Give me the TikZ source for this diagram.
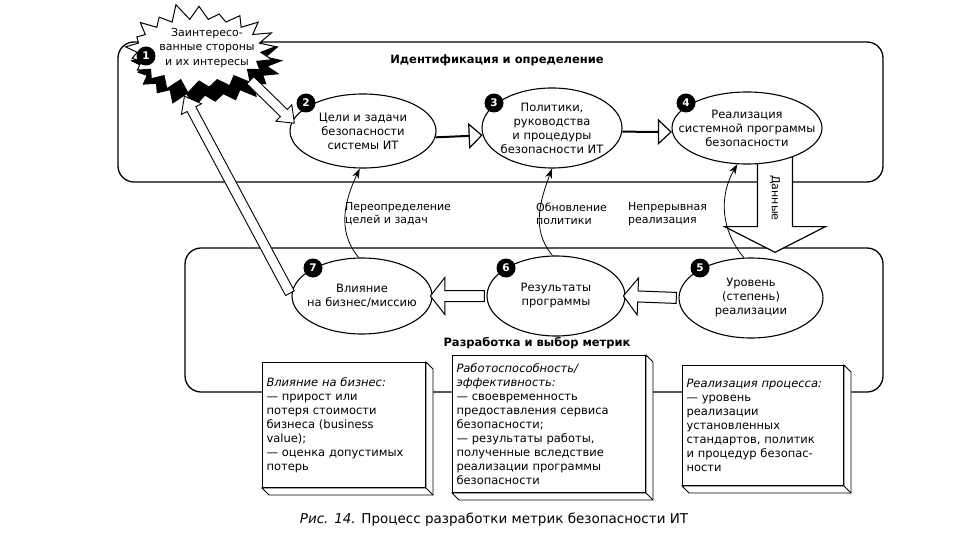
\documentclass[tikz,border=0pt]{standalone}
\usepackage{fontspec}
\setmainfont{DejaVu Sans}
\usetikzlibrary{shapes.geometric,shapes.symbols,shapes.arrows,arrows.meta,calc}
\pgfdeclarelayer{bg}
\pgfdeclarelayer{mid}
\pgfsetlayers{bg,mid,main}
\newcommand{\blkarrow}[4]{%
  \path let \p1=(#2), \p2=(#3), \n1={atan2(\y2-\y1,\x2-\x1)}, \n2={veclen(\x2-\x1,\y2-\y1)} in
    node[#1, minimum height=\n2, rotate=\n1] (#4) at ($(#2)!0.5!(#3)$) {};}
\newcommand{\boxbevel}[1]{%
  \draw[line width=0.9pt, fill=white] (#1.north east) -- ++(7,7) -- ($(#1.south east)+(7,7)$) -- ($(#1.south west)+(7,7)$) -- (#1.south west) -- (#1.south east) -- cycle;
  \draw[line width=0.9pt] (#1.south east) -- ++(7,7);}
\begin{document}
\begin{tikzpicture}[x=1pt,y=-1pt,
  ell/.style={ellipse, draw, line width=1.1pt, fill=white, align=center, inner xsep=-40pt, inner ysep=-25pt, font=\fontsize{11.5}{14}\selectfont},
  badge/.style={circle, fill=black, text=white, font=\bfseries\fontsize{10.5}{11}\selectfont, inner sep=0pt, minimum size=19pt},
  barrow/.style={single arrow, draw, line width=0.9pt, fill=white, inner xsep=0pt, inner ysep=4.5pt, single arrow head extend=6.5pt, single arrow tip angle=76},
  harrow/.style={single arrow, draw, line width=1pt, fill=white, inner xsep=0pt, inner ysep=5pt, single arrow head extend=13pt, single arrow tip angle=104},
  frame/.style={draw, line width=1.3pt, rounded corners=16pt},
  curvearr/.style={line width=0.8pt, -{Stealth[length=10pt,width=7pt]}},
  bigarr/.style={line width=2pt, -{Triangle[open,length=14pt,width=26pt,line width=1.2pt]}},
  lbl/.style={align=left, anchor=west, inner sep=0pt, font=\fontsize{11}{13}\selectfont},
  ttl/.style={font=\bfseries\fontsize{11.5}{14}\selectfont, inner sep=1pt},
  tbox/.style={draw, line width=1pt, fill=white, align=left, anchor=north west, inner xsep=4pt, inner ysep=4pt, font=\fontsize{11.5}{14}\selectfont},
  dataarr/.style={single arrow, draw, line width=1.2pt, fill=white, rotate=-90, inner xsep=4pt, inner ysep=12pt, single arrow head extend=33pt, single arrow tip angle=126, minimum height=100pt, font=\fontsize{11}{11}\selectfont},
  burst/.style={starburst, line width=1pt, minimum width=158pt, minimum height=96pt, starburst points=21, starburst point height=17pt, random starburst=11, inner sep=0pt},
]
\useasboundingbox (0,0) rectangle (960,540);
\begin{pgfonlayer}{bg}
\fill[white] (0,0) rectangle (960,540);
\draw[frame] (118,42) rectangle (883,182);
\draw[frame] (185,248) rectangle (883,392);
\end{pgfonlayer}
\begin{pgfonlayer}{mid}
\node[dataarr, anchor=tip] (data) at (775,253) {Данные};
\end{pgfonlayer}

\node[ttl] (t1) at (497,60) {Идентификация и определение};
\node[ttl] (t2) at (537,343) {Разработка и выбор метрик};

% burst
\node[burst, fill=black, draw=black] (e1s) at (205,64) {};
\node[burst, fill=white, draw=black] (e1) at (199,50) {};
\node[align=center, inner sep=0pt, font=\fontsize{11}{14.5}\selectfont] (e1t) at (207,48) {Заинтересо-\\ванные стороны\\и их интересы};

% ellipses
\node[ell, minimum width=146pt, minimum height=74pt] (e2) at (363,131) {Цели и задачи\\безопасности\\системы ИТ};
\node[ell, minimum width=140pt, minimum height=80pt] (e3) at (552,128) {Политики,\\руководства\\и процедуры\\безопасности ИТ};
\node[ell, minimum width=150pt, minimum height=72pt] (e4) at (747,128) {Реализация\\системной программы\\безопасности};
\node[ell, minimum width=140pt, minimum height=76pt] (e7) at (362,296) {Влияние\\на бизнес/миссию};
\node[ell, minimum width=138pt, minimum height=80pt] (e6) at (556,296) {Результаты\\программы};
\node[ell, minimum width=144pt, minimum height=80pt] (e5) at (751,298) {Уровень\\(степень)\\реализации};

% badges
\node[badge] (b1) at (146,56) {1};
\node[badge] (b2) at (306,103) {2};
\node[badge] (b3) at (494,103) {3};
\node[badge] (b4) at (686,103) {4};
\node[badge] (b7) at (313,268) {7};
\node[badge] (b6) at (506,268) {6};
\node[badge] (b5) at (700,268) {5};

% block arrows
\coordinate (a1s) at (248,78);
\coordinate (a1t) at (186,99);
\blkarrow{barrow}{a1s}{e2.172}{ar12}
\blkarrow{barrow}{e7.west}{a1t}{ar71}
\blkarrow{harrow}{e6.west}{e7.east}{ar67}
\blkarrow{harrow}{e5.west}{e6.east}{ar56}

% top arrows
\draw[bigarr] (e2.-5) -- (e3.186);
\draw[bigarr] (e3.-3) -- (e4.183);

% curved arrows
\draw[curvearr] (e7.95) to[out=130,in=-115] (e2.-95);
\draw[curvearr] (e6.95) to[out=130,in=-110] (e3.-90);
\draw[curvearr] (e5.100) to[out=130,in=-120] (e4.-105);

\node[lbl] (l1) at (345,214) {Переопределение\\целей и задач};
\node[lbl] (l2) at (536,214) {Обновление\\политики};
\node[lbl] (l3) at (628,214) {Непрерывная\\реализация};

% text boxes
\node[tbox, text width=155pt, minimum height=125pt] (ba) at (262,362) {\textit{Влияние на бизнес:}\\— прирост или\\потеря стоимости\\бизнеса (business\\value);\\— оценка допустимых\\потерь};
\node[tbox, text width=185pt, minimum height=137pt] (bb) at (452,355) {\textit{Работоспособность/}\\\textit{эффективность:}\\— своевременность\\предоставления сервиса\\безопасности;\\— результаты работы,\\полученные вследствие\\реализации программы\\безопасности};
\node[tbox, text width=153pt, minimum height=120pt] (bc) at (682,365) {\textit{Реализация процесса:}\\— уровень\\реализации\\установленных\\стандартов, политик\\и процедур безопас-\\ности};
\boxbevel{ba}
\boxbevel{bb}
\boxbevel{bc}

\node[font=\fontsize{13.5}{18}\selectfont] (cap) at (494,520) {\textit{Рис. 14.} Процесс разработки метрик безопасности ИТ};
\end{tikzpicture}
\end{document}
